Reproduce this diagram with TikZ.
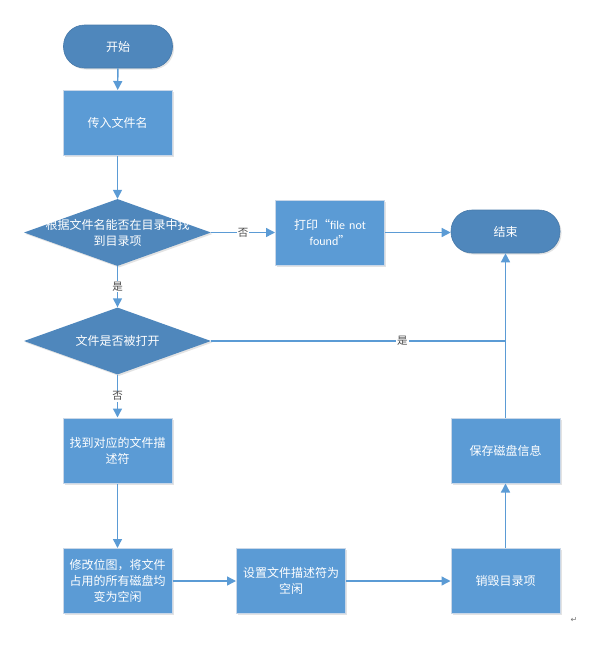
\documentclass[tikz,border=0pt]{standalone}
\usepackage{fontspec}
\setmainfont{Noto Sans CJK SC}
\newfontfamily\latinf{Carlito}
\newfontfamily\symf{DejaVu Sans}
\usetikzlibrary{shapes.geometric,arrows.meta,shadows}
\definecolor{boxblue}{HTML}{5B9BD5}
\definecolor{darkblue}{HTML}{4F87BC}
\definecolor{edgeblue}{HTML}{5B9BD5}
\definecolor{boxline}{HTML}{C9D7E8}
\definecolor{lbl}{HTML}{4A4A4A}
\begin{document}
\begin{tikzpicture}[x=1pt,y=-1pt,
  base/.style={font=\fontsize{12}{16}\selectfont, text=white, align=center},
  shad/.style={drop shadow={shadow xshift=1.5pt, shadow yshift=-1.5pt, opacity=0.18, fill=black!60}},
  term/.style={base, shad, fill=darkblue, draw=darkblue!90!black, line width=0.6pt, rounded corners=21pt, minimum width=109pt, minimum height=43pt, inner sep=0pt},
  proc/.style={base, shad, fill=boxblue, draw=boxline, line width=1pt, minimum width=109pt, minimum height=65pt, inner sep=2pt, text width=104pt},
  dia/.style={diamond, shad, fill=darkblue, minimum width=187pt, minimum height=67pt, inner sep=0pt},
  diatext/.style={base, inner sep=0pt},
  conn/.style={draw=edgeblue, line width=1.4pt, -{Triangle[length=9pt,width=9pt]}},
  plain/.style={draw=edgeblue, line width=1.4pt},
  elabel/.style={fill=white, text=lbl, inner sep=1pt, font=\fontsize{10.5}{12}\selectfont}
]
\useasboundingbox (0,0) rectangle (591,648);

\node[term] (start) at (118,46.5) {开始};
\node[proc] (input) at (117.5,123) {传入文件名};
\node[dia] (d1) at (117.5,232.5) {};
\node[diatext] (d1t) at (117.5,232.5) {根据文件名能否在目录中找\\到目录项};
\node[proc] (print) at (330,232.5) {打印“{\latinf file not}\\{\latinf found}”};
\node[term] (end) at (505.5,231.5) {结束};
\node[dia] (d2) at (117.5,341) {};
\node[diatext] (d2t) at (117.5,341) {文件是否被打开};
\node[proc] (find) at (117.5,450.5) {找到对应的文件描\\述符};
\node[proc] (modify) at (117.5,581) {修改位图，将文件\\占用的所有磁盘均\\变为空闲};
\node[proc] (setfd) at (291,581) {设置文件描述符为\\空闲};
\node[proc] (destroy) at (505.5,581) {销毁目录项};
\node[proc] (save) at (505.5,450.5) {保存磁盘信息};
\coordinate (join) at (505.5,341);

\draw[conn] (start) -- (input);
\draw[conn] (input) -- (d1);
\draw[conn] (d1) -- node[elabel, pos=0.5] {否} (print);
\draw[conn] (print) -- (print -| end.west);
\draw[conn] (d1) -- node[elabel, pos=0.5] {是} (d2);
\draw[plain] (d2) -- node[elabel, pos=0.65] {是} (join);
\draw[conn] (d2) -- node[elabel, pos=0.5] {否} (find);
\draw[conn] (find) -- (modify);
\draw[conn] (modify) -- (setfd);
\draw[conn] (setfd) -- (destroy);
\draw[conn] (destroy) -- (save);
\draw[conn] (save) -- (end);

\node[text=black!55, font=\symf\fontsize{8}{8}\selectfont, inner sep=0pt] (ret) at (574,620) {↵};
\end{tikzpicture}
\end{document}
